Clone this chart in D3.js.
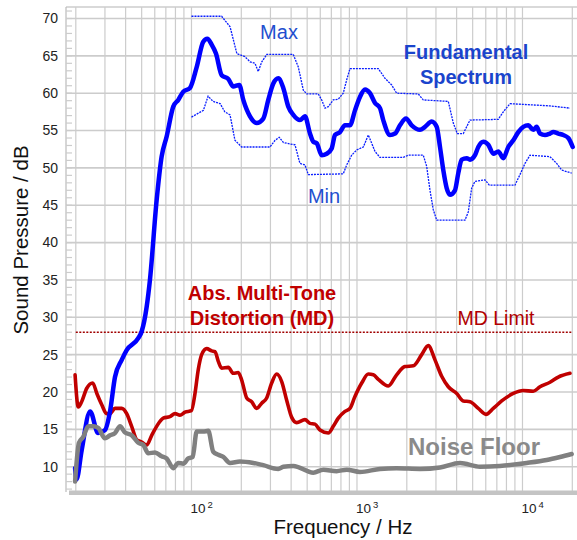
<!DOCTYPE html>
<html>
<head>
<meta charset="utf-8">
<script src="https://cdn.jsdelivr.net/npm/d3@7"></script>
<style>
  html, body { margin: 0; padding: 0; background: #fff; }
  svg { display: block; font-family: "Liberation Sans", Arial, sans-serif; }
</style>
</head>
<body>
<div id="chart"></div>
<script>
// values: [frequency Hz, level dB]
const fundamental = [[19.8, 9.8], [20.2, 8.3], [21.7, 12.2], [24.4, 17.4], [27.3, 14.5], [30, 14.9], [32.2, 17.4], [34.5, 22.0], [37.9, 24.3], [40.6, 25.6], [47.7, 27.2], [50, 28.1], [53.6, 31.4], [56.1, 35.0], [61.6, 45.7], [66, 51.5], [70.8, 54.2], [77.6, 58.2], [83.2, 59.1], [89.2, 60.2], [97.9, 60.7], [107.5, 63.5], [117.8, 66.9], [124.6, 67.3], [132.4, 66.5], [140.6, 65.3], [152.2, 62.4], [166.9, 61.9], [178.9, 60.9], [194.5, 61.1], [205.6, 59.1], [225.7, 56.9], [247.7, 56.0], [271.6, 56.6], [291.1, 59.1], [312.1, 61.3], [334.5, 62.0], [358.7, 60.7], [384.6, 58.2], [412.2, 57.1], [452.4, 56.4], [485.1, 56.9], [520, 54.6], [544.5, 53.5], [570.8, 53.3], [611.9, 51.7], [656, 51.9], [703.3, 52.6], [736.4, 54.4], [789.4, 54.8], [846.3, 55.7], [907.2, 55.7], [972.5, 57.7], [1042, 59.5], [1118, 60.5], [1198, 60.0], [1285, 58.7], [1377, 58.0], [1441, 56.4], [1582, 54.4], [1697, 54.6], [1819, 55.7], [1978, 56.6], [2141, 55.7], [2403, 55.1], [2576, 55.5], [2828, 56.2], [3031, 55.5], [3174, 52.8], [3323, 49.7], [3483, 47.3], [3648, 46.4], [3909, 47.0], [4094, 49.3], [4292, 51.1], [4601, 51.3], [4817, 51.1], [5164, 51.7], [5407, 52.8], [5796, 53.5], [6214, 53.1], [6662, 51.9], [7141, 52.2], [7656, 51.3], [8208, 52.8], [8800, 53.7], [9432, 54.8], [10111, 55.5], [10839, 55.7], [11623, 55.1], [12182, 55.5], [12756, 54.6], [13677, 54.4], [14662, 54.6], [15350, 54.8], [16457, 54.6], [17641, 54.4], [18912, 54.0], [20110, 52.8]];

const maxLine = [[100, 70.3], [152, 70.3], [171, 68.9], [188, 65.3], [210, 64.9], [226, 64.2], [242, 64.0], [253, 62.9], [266, 64.2], [285, 65.2], [412, 65.2], [442, 63.5], [474, 60.4], [497, 59.9], [584, 59.9], [612, 59.1], [641, 58.0], [671, 58.2], [719, 59.1], [771, 59.2], [826, 60.0], [867, 61.8], [907, 63.3], [1345, 63.3], [1476, 62.0], [1620, 61.1], [1736, 60.0], [2346, 59.9], [2515, 59.1], [3563, 58.9], [3819, 56.0], [4037, 54.6], [4389, 54.6], [4817, 56.4], [7141, 56.5], [7656, 57.5], [8405, 58.6], [14662, 58.3], [19364, 58.0]];

const minLine = [[100, 56.8], [118, 57.7], [126, 59.6], [135, 58.9], [149, 58.6], [159, 57.5], [171, 57.1], [183, 53.7], [201, 52.8], [298, 52.8], [320, 53.7], [339, 54.1], [359, 53.4], [394, 53.2], [422, 53.1], [452, 50.6], [485, 50.4], [508, 49.1], [826, 49.2], [867, 50.4], [929, 51.7], [996, 52.4], [1092, 52.8], [1171, 54.4], [1285, 52.2], [1377, 51.4], [1905, 51.4], [2042, 51.7], [2515, 51.7], [2637, 50.2], [2761, 47.0], [2891, 44.4], [3031, 43.0], [4493, 43.0], [4704, 44.1], [4932, 47.3], [5164, 48.2], [5935, 48.4], [6302, 47.7], [9010, 47.7], [9658, 49.1], [10356, 50.6], [11099, 51.7], [14662, 51.5], [16093, 50.6], [17255, 49.7], [19830, 49.3]];

const distortion = [[19.8, 22.3], [20.7, 18.0], [21.7, 18.7], [23.3, 20.5], [25.3, 21.2], [26.8, 19.8], [28.7, 18.3], [30.7, 17.1], [32.2, 17.1], [34.5, 17.8], [37.9, 17.8], [40.6, 17.1], [43.5, 15.4], [46.7, 13.6], [50, 13.3], [53.6, 12.9], [57.5, 14.2], [61.6, 15.4], [67.5, 16.5], [74.1, 16.7], [79.5, 17.1], [85.2, 16.9], [91.4, 17.3], [100, 17.5], [105, 19.8], [109.9, 23.0], [115.2, 25.0], [123.6, 25.8], [132.4, 25.5], [138.7, 25.4], [145.2, 24.1], [152.2, 23.2], [166.9, 23.3], [178.9, 22.5], [191.8, 22.6], [201.1, 21.6], [215.6, 19.2], [231.1, 18.7], [247.7, 17.8], [265.6, 18.5], [284.7, 19.2], [305.2, 21.2], [327.2, 22.4], [350.8, 21.4], [376, 18.9], [403.2, 16.6], [432.1, 15.9], [485.1, 16.3], [520, 15.8], [557.6, 15.7], [597.6, 14.9], [671, 14.5], [719, 15.4], [771, 16.5], [846, 17.4], [907, 17.8], [972, 19.4], [1068, 21.2], [1171, 22.4], [1255, 22.3], [1345, 21.7], [1546, 20.8], [1736, 22.3], [1950, 23.4], [2189, 23.5], [2460, 25.0], [2697, 26.2], [2960, 24.3], [3249, 22.1], [3563, 20.7], [4004, 19.8], [4389, 18.8], [4817, 18.7], [5407, 17.8], [6019, 17.0], [6662, 17.8], [7487, 18.8], [8800, 19.8], [10111, 20.2], [11623, 20.1], [12756, 20.7], [14662, 21.3], [16457, 22.0], [19364, 22.5]];

const noiseFloor = [[19.8, 8.0], [20.9, 13.2], [22.2, 14.0], [23.8, 15.4], [25.5, 15.4], [27.3, 15.2], [30, 13.8], [32.2, 14.2], [34.5, 14.5], [37, 15.4], [39.6, 14.6], [43.5, 14.2], [47.7, 13.2], [51.2, 12.9], [54.8, 11.8], [60.2, 11.9], [66, 11.4], [70.8, 11.1], [77.6, 9.8], [83.2, 10.5], [89.2, 10.4], [95.6, 11.1], [101.7, 11.3], [107.5, 14.7], [117.8, 14.7], [126.3, 14.8], [135.4, 12.0], [145.2, 11.6], [155.7, 11.3], [170.9, 10.5], [196.4, 10.7], [236.3, 10.5], [271.6, 10.2], [334.5, 9.7], [358.7, 10.0], [412.2, 10.1], [544.5, 9.2], [626, 9.6], [754, 9.4], [867, 9.6], [1042, 9.3], [1377, 9.7], [1736, 9.8], [2403, 9.7], [3174, 9.9], [4193, 10.5], [5537, 10.0], [7311, 10.1], [10603, 10.5], [14002, 10.9], [16849, 11.3], [19830, 11.7]];

const mdLimit = 28;
const mdLimitRange = [20, 20000];
const yTicks = [10, 15, 20, 25, 30, 35, 40, 45, 50, 55, 60, 65, 70];
const xTickExps = [2, 3, 4];

const W = 577, H = 540;
const plotL = 66, plotR = 577, plotT = 7, plotB = 492;

const svg = d3.select("#chart").append("svg")
    .attr("width", W)
    .attr("height", H);

const x = d3.scaleLog().domain([17.45, 21350]).range([plotL, plotR]);
const y = d3.scaleLinear().domain([6.61, 71.54]).range([plotB, plotT]);

// vertical grid, every 1..9 per decade
const gridF = [];
[10, 100, 1000, 10000].forEach(d => {
    for (let k = 1; k <= 9; k++) {
        const f = d * k;
        if (f >= 20 && f <= 20000) gridF.push(f);
    }
});
svg.append("g").selectAll("line").data(gridF).join("line")
    .attr("x1", d => x(d)).attr("x2", d => x(d))
    .attr("y1", plotT).attr("y2", plotB)
    .attr("stroke", "#cccccc").attr("stroke-width", 1.2);

// horizontal grid
svg.append("g").selectAll("line").data(yTicks).join("line")
    .attr("x1", plotL).attr("x2", plotR)
    .attr("y1", d => y(d)).attr("y2", d => y(d))
    .attr("stroke", "#cccccc").attr("stroke-width", 1.6);

// frame
svg.append("line").attr("x1", plotL).attr("x2", plotR).attr("y1", plotT).attr("y2", plotT)
    .attr("stroke", "#cccccc").attr("stroke-width", 1.5);
svg.append("line").attr("x1", plotL).attr("x2", plotL).attr("y1", plotT).attr("y2", plotB)
    .attr("stroke", "#bbbbbb").attr("stroke-width", 1.2);

// minor y ticks (1 dB)
svg.append("g").selectAll("line").data(d3.range(7, 72)).join("line")
    .attr("x1", plotL).attr("x2", plotL + 6)
    .attr("y1", d => y(d)).attr("y2", d => y(d))
    .attr("stroke", "#cccccc").attr("stroke-width", 1.2);

// bottom axis bar
svg.append("rect")
    .attr("x", plotL + 3).attr("y", plotB - 1.5)
    .attr("width", plotR - plotL).attr("height", 4.5)
    .attr("fill", "#c4c4c4");

// y tick labels
svg.append("g").selectAll("text").data(yTicks).join("text")
    .attr("x", plotL - 8).attr("y", d => y(d))
    .attr("dy", "0.35em")
    .attr("text-anchor", "end")
    .attr("font-size", 14)
    .attr("fill", "#222")
    .text(d => d);

// x tick labels 10^n
const xl = svg.append("g").selectAll("text").data(xTickExps).join("text")
    .attr("x", d => x(Math.pow(10, d)) - 1)
    .attr("y", 513)
    .attr("font-size", 13.5)
    .attr("fill", "#222");
xl.append("tspan").text("10");
xl.append("tspan").attr("dx", 2).attr("dy", -5).attr("font-size", 9.5).text(d => d);

// axis titles
svg.append("text")
    .attr("x", 343).attr("y", 534)
    .attr("text-anchor", "middle")
    .attr("font-size", 20.5)
    .attr("fill", "#111")
    .text("Frequency / Hz");
svg.append("text")
    .attr("transform", "translate(28,240) rotate(-90)")
    .attr("text-anchor", "middle")
    .attr("font-size", 20.5)
    .attr("fill", "#111")
    .text("Sound Pressure / dB");

// MD limit
svg.append("line")
    .attr("x1", x(mdLimitRange[0])).attr("x2", x(mdLimitRange[1]))
    .attr("y1", y(mdLimit)).attr("y2", y(mdLimit))
    .attr("stroke", "#a00000").attr("stroke-width", 1.3)
    .attr("stroke-dasharray", "2,1.5");

const line = d3.line()
    .x(d => x(d[0]))
    .y(d => y(d[1]));
const smooth = d3.line()
    .curve(d3.curveMonotoneX)
    .x(d => x(d[0]))
    .y(d => y(d[1]));

svg.append("path").datum(maxLine)
    .attr("d", line).attr("fill", "none")
    .attr("stroke", "#0a1eff").attr("stroke-width", 1.3)
    .attr("stroke-dasharray", "2,1");
svg.append("path").datum(minLine)
    .attr("d", line).attr("fill", "none")
    .attr("stroke", "#0a1eff").attr("stroke-width", 1.3)
    .attr("stroke-dasharray", "2,1");

svg.append("path").datum(distortion)
    .attr("d", smooth).attr("fill", "none")
    .attr("stroke", "#c00000").attr("stroke-width", 3.6)
    .attr("stroke-linejoin", "round").attr("stroke-linecap", "round");

svg.append("path").datum(fundamental)
    .attr("d", smooth).attr("fill", "none")
    .attr("stroke", "#0000ff").attr("stroke-width", 4.5)
    .attr("stroke-linejoin", "round").attr("stroke-linecap", "round");

svg.append("path").datum(noiseFloor)
    .attr("d", smooth).attr("fill", "none")
    .attr("stroke", "#808080").attr("stroke-width", 4.5)
    .attr("stroke-linejoin", "round").attr("stroke-linecap", "round");

// annotations
svg.append("text").attr("x", 279).attr("y", 39)
    .attr("text-anchor", "middle").attr("font-size", 20)
    .attr("fill", "#1f4fcf").text("Max");
svg.append("text").attr("x", 324).attr("y", 203)
    .attr("text-anchor", "middle").attr("font-size", 20)
    .attr("fill", "#1f4fcf").text("Min");

const fs = svg.append("text").attr("text-anchor", "middle")
    .attr("font-size", 20).attr("font-weight", "bold").attr("fill", "#1a44cc");
fs.append("tspan").attr("x", 466).attr("y", 59).text("Fundamental");
fs.append("tspan").attr("x", 466).attr("y", 84).text("Spectrum");

const md = svg.append("text").attr("text-anchor", "middle")
    .attr("font-size", 20).attr("font-weight", "bold").attr("fill", "#c00000");
md.append("tspan").attr("x", 262).attr("y", 300).text("Abs. Multi-Tone");
md.append("tspan").attr("x", 262).attr("y", 325).text("Distortion (MD)");

svg.append("text").attr("x", 496).attr("y", 325)
    .attr("text-anchor", "middle").attr("font-size", 19.5)
    .attr("fill", "#b00000").text("MD Limit");

svg.append("text").attr("x", 474).attr("y", 455)
    .attr("text-anchor", "middle").attr("font-size", 24)
    .attr("font-weight", "bold").attr("fill", "#8a8a8a").text("Noise Floor");
</script>
</body>
</html>
